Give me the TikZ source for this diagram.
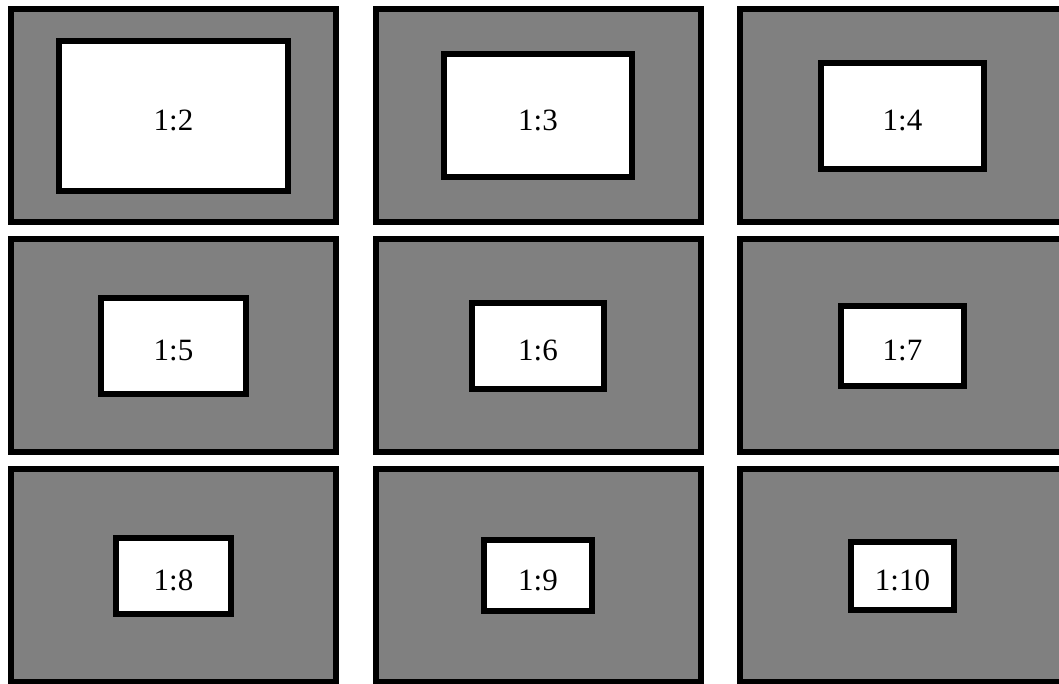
\documentclass[tikz,border=0pt]{standalone}
\usepackage{fontspec}
\setmainfont{Liberation Serif}
\usetikzlibrary{positioning}
\definecolor{panelgray}{HTML}{808080}

\begin{document}
\begin{tikzpicture}[
    panel/.style={draw=black, fill=panelgray, line width=6pt, minimum width=325pt, minimum height=213pt, inner sep=0pt, outer sep=0pt},
    ratio/.style={draw=black, fill=white, line width=6pt, minimum width={325pt/sqrt(#1)}, minimum height={213pt/sqrt(#1)}, inner sep=0pt, outer sep=0pt, text height=29pt, text depth=0pt, font=\fontsize{31}{37}\selectfont},
    node distance=17pt and 39.5pt,
]
    \useasboundingbox (0,0) rectangle (1059pt,684pt);
    \clip (0,0) rectangle (1059pt,684pt);

    % grey frames, three by three
    \node[panel] (p2) at (173.5pt,568pt) {};
    \node[panel, right=of p2] (p3) {};
    \node[panel, right=of p3] (p4) {};
    \node[panel, below=of p2] (p5) {};
    \node[panel, right=of p5] (p6) {};
    \node[panel, right=of p6] (p7) {};
    \node[panel, below=of p5] (p8) {};
    \node[panel, right=of p8] (p9) {};
    \node[panel, right=of p9] (p10) {};

    % white boxes, area 1/n of the frame
    \node[ratio=2] (b2) at (p2) {1:2};
    \node[ratio=3] (b3) at (p3) {1:3};
    \node[ratio=4] (b4) at (p4) {1:4};
    \node[ratio=5] (b5) at (p5) {1:5};
    \node[ratio=6] (b6) at (p6) {1:6};
    \node[ratio=7] (b7) at (p7) {1:7};
    \node[ratio=8] (b8) at (p8) {1:8};
    \node[ratio=9] (b9) at (p9) {1:9};
    \node[ratio=10] (b10) at (p10) {1:10};
\end{tikzpicture}
\end{document}
